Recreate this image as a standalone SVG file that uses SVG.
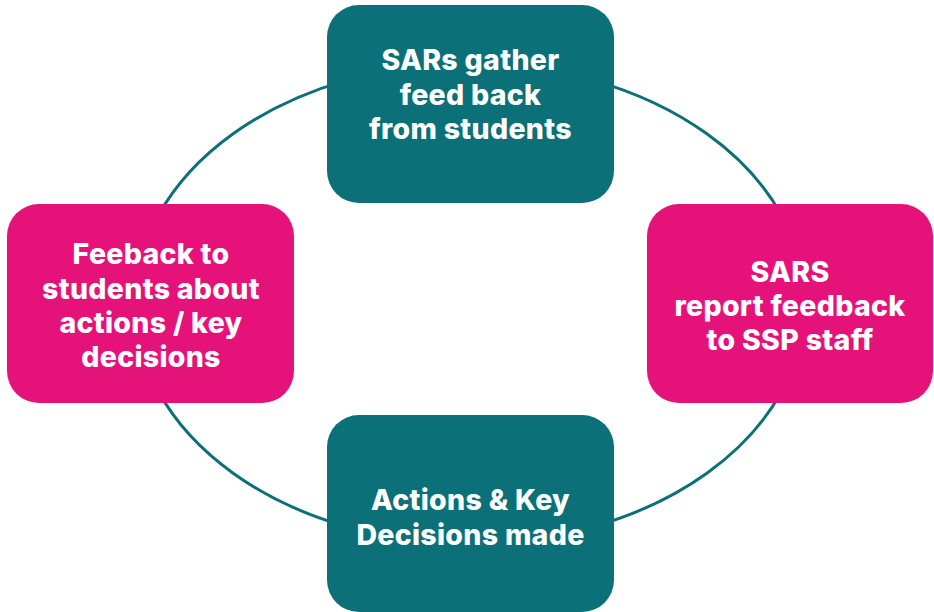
<svg xmlns="http://www.w3.org/2000/svg" width="934" height="612" viewBox="0 0 934 612">
<style>
.teal{fill:#0c7078}
.pink{fill:#e5127a}
.lbl{font-family:Inter,Lato,"Liberation Sans",sans-serif;font-weight:800;font-size:28.5px;letter-spacing:0.3px;fill:#ffffff;text-anchor:middle}
.ring{fill:none;stroke:#0c7078;stroke-width:3}
</style>
<rect width="934" height="612" fill="#ffffff"/>
<g id="connectors">
<ellipse class="ring" cx="470" cy="303.5" rx="335" ry="240"/>
</g>
<g id="node-gather">
<rect class="teal" x="327" y="5" width="287" height="198" rx="32"/>
<text class="lbl" x="470.5" y="70">SARs gather</text>
<text class="lbl" x="470.5" y="104.5">feed back</text>
<text class="lbl" x="470.5" y="139">from students</text>
</g>
<g id="node-report">
<rect class="pink" x="647" y="204" width="286" height="199" rx="32"/>
<text class="lbl" x="790" y="282">SARS</text>
<text class="lbl" x="790" y="316">report feedback</text>
<text class="lbl" x="790" y="350">to SSP staff</text>
</g>
<g id="node-actions">
<rect class="teal" x="327" y="415" width="287" height="197" rx="32"/>
<text class="lbl" x="470.5" y="510">Actions &amp; Key</text>
<text class="lbl" x="470.5" y="545">Decisions made</text>
</g>
<g id="node-feedback">
<rect class="pink" x="7" y="204" width="287" height="199" rx="32"/>
<text class="lbl" x="151" y="264">Feeback to</text>
<text class="lbl" x="151" y="299">students about</text>
<text class="lbl" x="151" y="333">actions / key</text>
<text class="lbl" x="151" y="367">decisions</text>
</g>
</svg>
